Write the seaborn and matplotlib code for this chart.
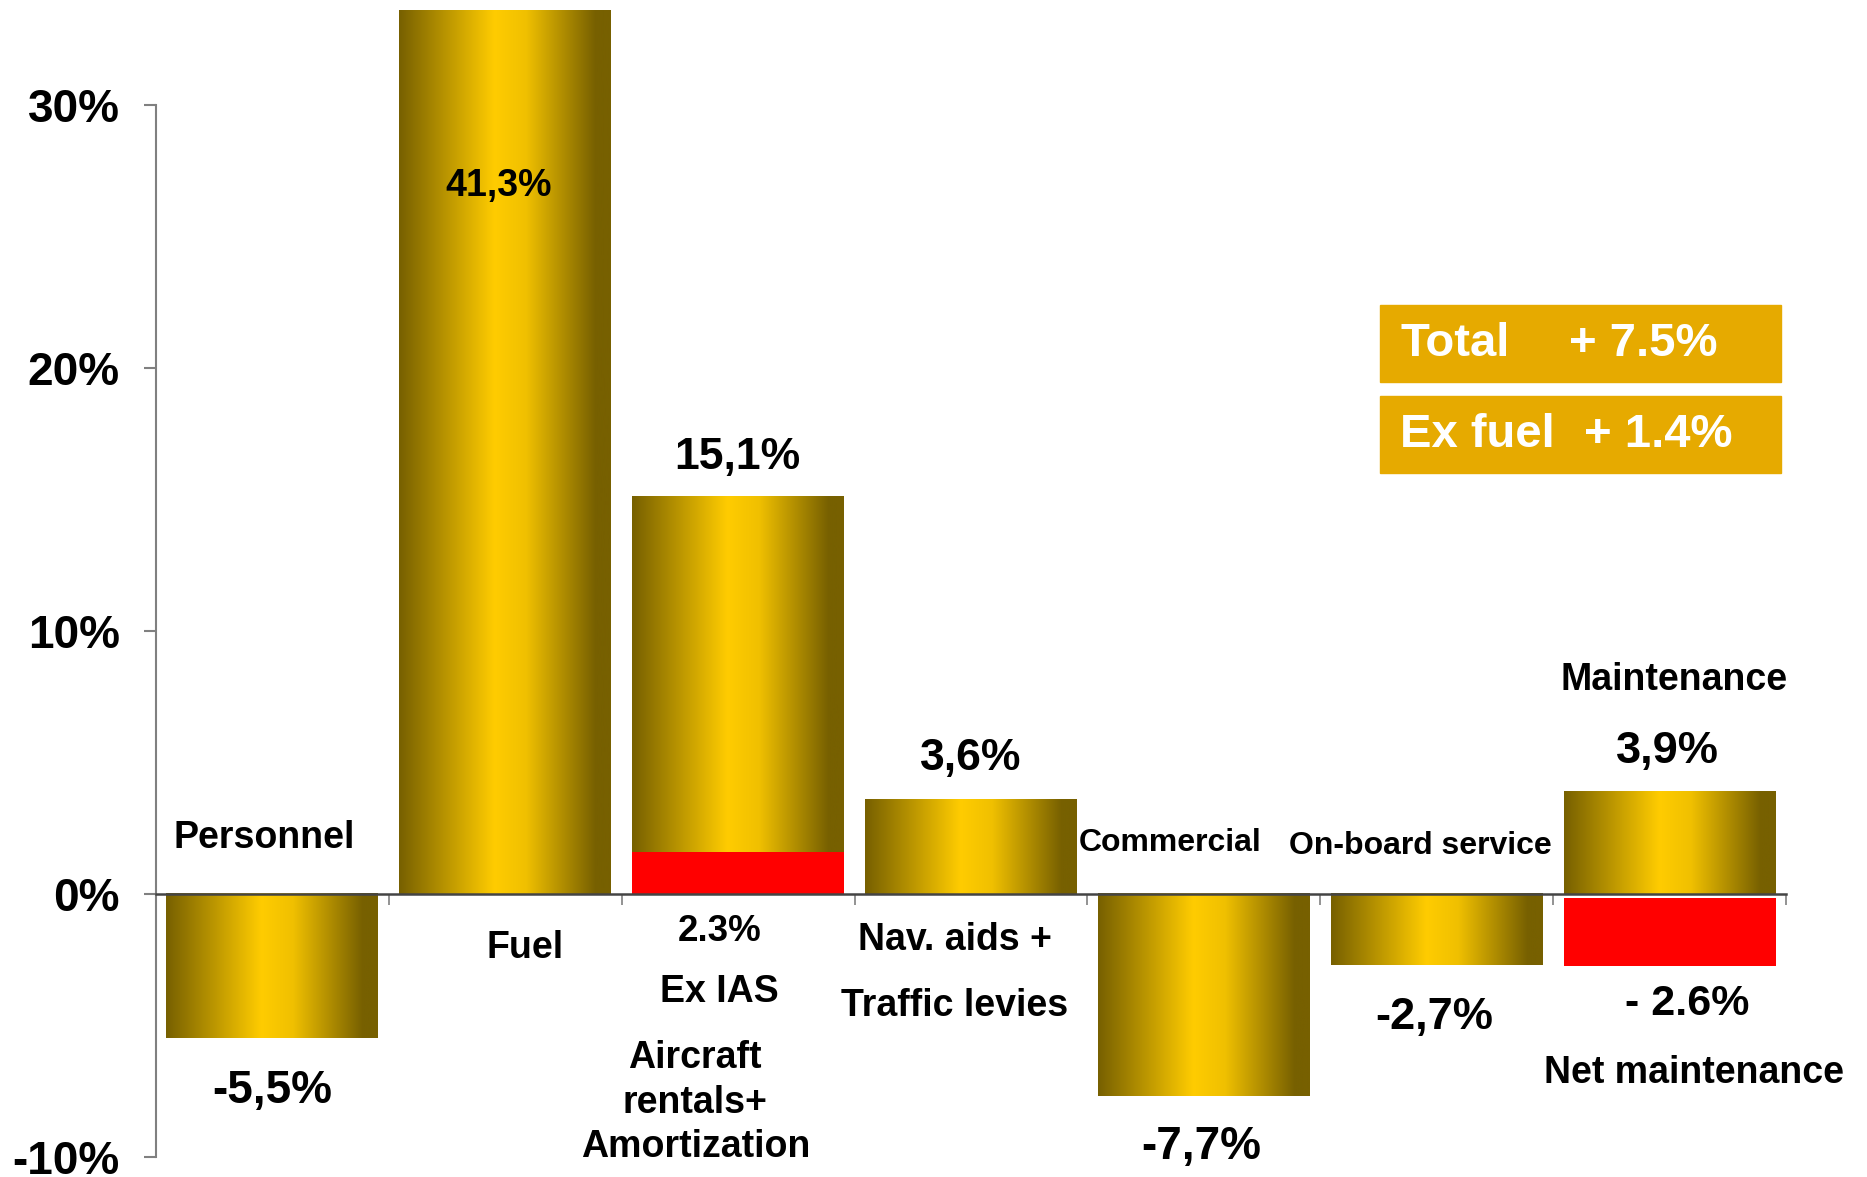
import numpy as np
import seaborn as sns
import matplotlib.pyplot as plt
from matplotlib.colors import LinearSegmentedColormap
from matplotlib.patches import Rectangle

categories = ["Personnel", "Fuel", "Aircraft rentals+ Amortization",
              "Nav. aids + Traffic levies", "Commercial", "On-board service",
              "Maintenance"]
changes = [-5.5, 41.3, 15.1, 3.6, -7.7, -2.7, 3.9]
value_labels = ["-5,5%", "41,3%", "15,1%", "3,6%", "-7,7%", "-2,7%", "3,9%"]

# red overlays (Ex IAS / net maintenance)
red_pos = [2, 6]
red_bottom = [0.0, -0.15]
red_height = [1.6, -2.6]
red_labels = ["2.3%", "- 2.6%"]

yticks = [-10, 0, 10, 20, 30]
ytick_labels = ["-10%", "0%", "10%", "20%", "30%"]

sns.set_style("white")
plt.rcParams["font.family"] = ["Liberation Sans", "DejaVu Sans"]
plt.rcParams["font.weight"] = "bold"
plt.rcParams["text.color"] = "black"
plt.rcParams["ytick.labelcolor"] = "black"

fig = plt.figure(figsize=(18.67, 11.77), dpi=100)
ax = fig.add_axes([156 / 1867, 0, 1630 / 1867, 1 - 9.5 / 1177])

sns.barplot(x=categories, y=changes, color="#ffcc00", width=0.91, ax=ax)

gold = LinearSegmentedColormap.from_list(
    "gold", [(0, "#776000"), (0.45, "#ffcc00"), (0.6, "#f0c000"),
             (0.93, "#776000"), (1, "#776000")])
grad = np.linspace(0, 1, 256).reshape(1, -1)
for p in ax.patches:
    x0, y0 = p.get_x(), p.get_y()
    x1, y1 = x0 + p.get_width(), y0 + p.get_height()
    p.set_facecolor("none")
    p.set_edgecolor("none")
    ax.imshow(grad, cmap=gold, aspect="auto", zorder=2,
              extent=[x0, x1, min(y0, y1), max(y0, y1)])

ax.bar(red_pos, red_height, bottom=red_bottom, width=0.91, color="#ff0000",
       edgecolor="none", linewidth=0, zorder=3)

ax.set_xlim(-0.5, 6.5)
ax.set_ylim(-10.77, 33.62)
ax.set_aspect("auto")

for s in ["top", "right"]:
    ax.spines[s].set_visible(False)
ax.spines["left"].set_bounds(-10, 30)
ax.spines["left"].set_color("#808080")
ax.spines["left"].set_linewidth(1.5)
ax.spines["bottom"].set_position(("data", 0))
ax.spines["bottom"].set_color("#444444")
ax.spines["bottom"].set_linewidth(1.8)
ax.spines["bottom"].set_zorder(4)

ax.set_yticks(yticks)
ax.set_yticklabels(ytick_labels)
ax.tick_params(axis="y", direction="out", length=9, width=1.5, color="#808080",
               labelsize=33, pad=17, left=True, labelcolor="black")
ax.set_xticks(np.arange(-0.5, 7, 1))
ax.set_xticklabels([])
ax.tick_params(axis="x", direction="out", length=8, width=1.2, color="#808080",
               bottom=True)
ax.set_xlabel("")
ax.set_ylabel("")
for lab in ax.get_yticklabels():
    lab.set_fontweight("bold")

def put(x, y, s, size):
    ax.text(x, y - 0.18, s, ha="center", va="center", fontsize=size,
            fontweight="bold", color="black", zorder=5)

# value labels
put(0.97, 27.1, value_labels[1], 27)
put(0.0, -7.32, value_labels[0], 33)
put(1.995, 16.76, value_labels[2], 32)
put(3.0, 5.33, value_labels[3], 32)
put(3.99, -9.44, value_labels[4], 33)
put(4.99, -4.52, value_labels[5], 32.5)
put(5.99, 5.6, value_labels[6], 32.5)
put(1.92, -1.27, red_labels[0], 26.5)
put(6.076, -4.02, red_labels[1], 31)

# category labels
put(-0.035, 2.3, "Personnel", 27)
put(1.085, -1.9, "Fuel", 27)
put(1.92, -3.57, "Ex IAS", 27)
put(1.816, -6.05, "Aircraft", 27)
put(1.816, -7.77, "rentals+", 27)
put(1.816, -9.44, "Amortization", 27)
put(2.931, -1.58, "Nav. aids +", 27)
put(2.931, -4.07, "Traffic levies", 27)
put(3.857, 2.12, "Commercial", 23)
put(4.93, 1.99, "On-board service", 23)
put(6.019, 8.31, "Maintenance", 27)
put(6.106, -6.64, "Net maintenance", 27)

# summary boxes
box_color = "#e6aa00"
for yb, left, right, xr in [(1 - 382 / 1177, "Total", "+ 7.5%", 0.8405),
                            (1 - 473 / 1177, "Ex fuel", "+ 1.4%", 0.8483)]:
    fig.patches.append(Rectangle((1380 / 1867, yb), 401 / 1867, 77 / 1177,
                                 transform=fig.transFigure, color=box_color,
                                 zorder=1))
    yc = yb + 38 / 1177
    fig.text(0.750, yc, left, color="white", fontsize=34, fontweight="bold",
             va="center", ha="left")
    fig.text(xr, yc, right, color="white", fontsize=34, fontweight="bold",
             va="center", ha="left")

fig.savefig("out.png", dpi=100)
